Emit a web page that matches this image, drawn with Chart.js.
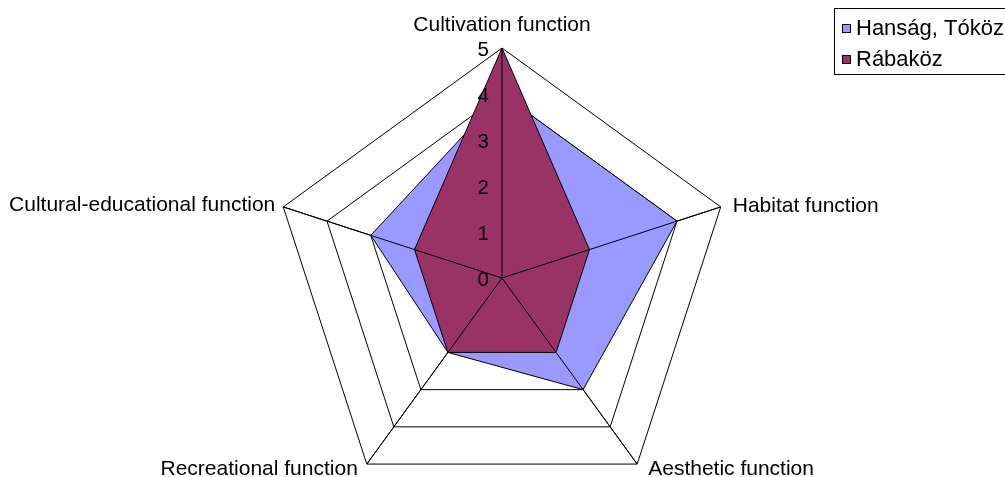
<!DOCTYPE html>
<html>
<head>
<meta charset="utf-8">
<script src="https://cdn.jsdelivr.net/npm/chart.js@4"></script>
<style>
  html, body { margin: 0; padding: 0; background: #fff; overflow: hidden; height: 477px; }
</style>
</head>
<body>
<canvas id="radar" width="1005" height="520"></canvas>
<script>
const categories = ['Cultivation function', 'Habitat function', 'Aesthetic function', 'Recreational function', 'Cultural-educational function'];
const seriesNames = ['Hanság, Tóköz', 'Rábaköz'];
const hansagValues = [4, 4, 3, 2, 3];
const rabakozValues = [5, 2, 2, 2, 2];
const tickValues = [0, 1, 2, 3, 4, 5];

const COLORS = ['#9999ff', '#993366'];
const FONT = '"Liberation Sans", Arial, sans-serif';

// label placement around each spoke tip: [dx, dy, align]
const LABEL_POS = [
  [0, -23, 'center'],
  [12, -1, 'left'],
  [11, 5, 'left'],
  [-9, 5, 'right'],
  [-8, -2, 'right'],
];

const overlay = {
  id: 'overlay',
  afterDatasetsDraw(chart) {
    const ctx = chart.ctx;
    const r = chart.scales.r;
    ctx.save();

    // spokes sit on top of the filled areas
    ctx.strokeStyle = '#000';
    ctx.lineWidth = 1;
    ctx.beginPath();
    categories.forEach((c, i) => {
      const p = r.getPointPositionForValue(i, r.max);
      ctx.moveTo(r.xCenter, r.yCenter);
      ctx.lineTo(p.x, p.y);
    });
    ctx.stroke();

    ctx.font = '20.5px ' + FONT;
    ctx.fillStyle = '#000';
    ctx.textBaseline = 'middle';

    ctx.textAlign = 'right';
    tickValues.forEach(v => {
      const y = r.yCenter - r.getDistanceFromCenterForValue(v);
      ctx.fillText(String(v), r.xCenter - 13, y + 2);
    });

    ctx.font = '21px ' + FONT;
    categories.forEach((c, i) => {
      const p = r.getPointPositionForValue(i, r.max);
      const [dx, dy, align] = LABEL_POS[i];
      ctx.textAlign = align;
      ctx.fillText(c, p.x + dx, p.y + dy);
    });

    // legend
    ctx.strokeRect(834.5, 8.5, 180, 66);
    ctx.textAlign = 'left';
    ctx.font = '22px ' + FONT;
    seriesNames.forEach((name, i) => {
      const y = 28 + i * 31;
      ctx.fillStyle = COLORS[i];
      ctx.fillRect(842, y - 4, 9, 9);
      ctx.strokeRect(842.5, y - 3.5, 8, 8);
      ctx.fillStyle = '#000';
      ctx.fillText(name, 856, y + 1);
    });

    ctx.restore();
  }
};

new Chart(document.getElementById('radar'), {
  type: 'radar',
  data: {
    labels: categories,
    datasets: [
      {
        label: seriesNames[0],
        data: hansagValues,
        backgroundColor: COLORS[0],
        borderColor: '#000',
        borderWidth: 1,
        pointRadius: 0,
        fill: true,
        order: 1,
      },
      {
        label: seriesNames[1],
        data: rabakozValues,
        backgroundColor: COLORS[1],
        borderColor: '#000',
        borderWidth: 1,
        pointRadius: 0,
        fill: true,
        order: 0,
      },
    ],
  },
  options: {
    responsive: false,
    animation: false,
    layout: { padding: { left: 272, top: 48, right: 273, bottom: 12 } },
    plugins: {
      legend: { display: false },
      tooltip: { enabled: false },
    },
    elements: { line: { tension: 0 } },
    scales: {
      r: {
        min: 0,
        max: 5,
        ticks: { stepSize: 1, display: false },
        pointLabels: { display: false },
        grid: { color: '#000', lineWidth: 1 },
        angleLines: { color: '#000', lineWidth: 1 },
      },
    },
  },
  plugins: [overlay],
});
</script>
</body>
</html>
